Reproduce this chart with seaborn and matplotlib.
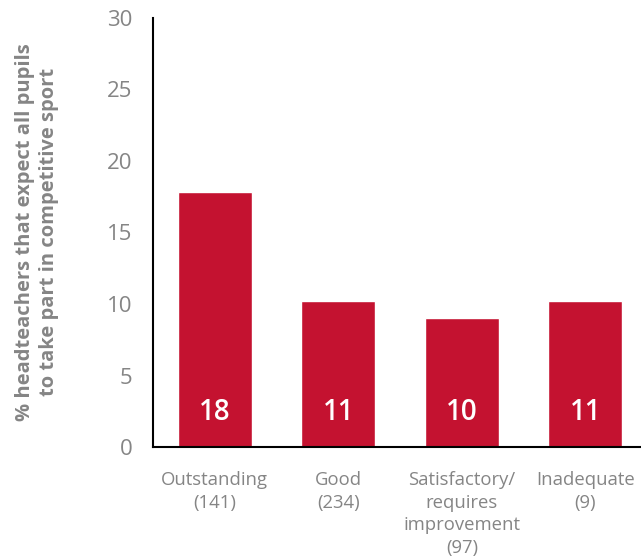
import pandas as pd
import seaborn as sns
from matplotlib import pyplot as plt

# data
categories = ['Outstanding\n(141)', 'Good\n(234)',
              'Satisfactory/\nrequires\nimprovement\n(97)', 'Inadequate\n(9)']
pct = [17.8, 10.2, 9.0, 10.2]
value_labels = ['18', '11', '10', '11']
yticks = [0, 5, 10, 15, 20, 25, 30]

red = '#C41230'
grey = '#858585'

sns.set_style('white')
plt.rcParams['font.family'] = ['Open Sans', 'DejaVu Sans']

df = pd.DataFrame({'cat': categories, 'pct': pct})

fig = plt.figure(figsize=(6.41, 5.6), dpi=100)
ax = fig.add_axes([153 / 641, 113 / 560, 1 - 153 / 641, 429 / 560])

sns.barplot(data=df, x='cat', y='pct', color=red, saturation=1, width=0.6, ax=ax)

for i, lab in enumerate(value_labels):
    ax.text(i, 2.4, lab, ha='center', va='center', color='white',
            fontsize=20, fontweight='semibold')

ax.set_ylim(0, 30)
ax.set_xlim(-0.5, 3.45)
ax.set_yticks(yticks)
ax.set_xticks(range(len(categories)))
ax.set_xticklabels(categories, linespacing=1.35)
ax.set_xticks([0.5, 1.5, 2.5], minor=True)
ax.tick_params(axis='y', length=0, pad=15, labelsize=16, labelcolor=grey)
ax.tick_params(axis='x', which='major', length=0, pad=17, labelsize=13.3, labelcolor=grey)
ax.tick_params(axis='x', which='minor', direction='inout', length=12, width=1, color='#333333')
ax.set_xlabel('')
ax.set_ylabel('')

for s in ['top', 'right']:
    ax.spines[s].set_visible(False)
for s in ['left', 'bottom']:
    ax.spines[s].set_color('black')
    ax.spines[s].set_linewidth(1.5)

fig.text(37 / 641, 1 - 232 / 560,
         '% headteachers that expect all pupils\nto take part in competitive sport',
         rotation=90, ha='center', va='center', color=grey,
         fontsize=14.5, fontweight='bold', linespacing=1.25)

fig.savefig('out.png', dpi=100)
